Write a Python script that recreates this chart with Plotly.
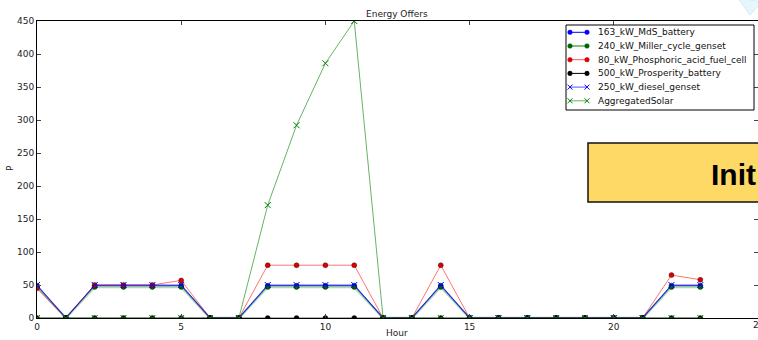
import plotly.graph_objects as go

hours = list(range(24))
names = ["163_kW_MdS_battery", "240_kW_Miller_cycle_genset", "80_kW_Phosphoric_acid_fuel_cell",
         "500_kW_Prosperity_battery", "250_kW_diesel_genset", "AggregatedSolar"]
mds_battery = [49, 0, 49, 49, 49, 49, 0, 0, 49, 49, 49, 49, 0, 0, 49, 0, 0, 0, 0, 0, 0, 0, 49, 49]
miller_genset = [47, 0, 47, 47, 47, 47, 0, 0, 47, 47, 47, 47, 0, 0, 47, 0, 0, 0, 0, 0, 0, 0, 47, 47]
fuel_cell = [45, 0, 50, 50, 50, 57, 0, 0, 80, 80, 80, 80, 0, 0, 80, 0, 0, 0, 0, 0, 0, 0, 65, 58]
prosperity_battery = [0] * 24
diesel_genset = [50, 0, 50, 50, 50, 50, 0, 0, 50, 50, 50, 50, 0, 0, 50, 0, 0, 0, 0, 0, 0, 0, 50, 50]
solar = [0, 0, 0, 0, 0, 0, 0, 0, 171, 292, 386, 450, 0, 0, 0, 0, 0, 0, 0, 0, 0, 0, 0, 0]
x_ticks = [0, 5, 10, 15, 20, 25]
y_ticks = list(range(0, 451, 50))

series = [mds_battery, miller_genset, fuel_cell, prosperity_battery, diesel_genset, solar]
line_cols = ["rgba(0,0,255,0.65)", "rgba(0,128,0,0.3)", "rgba(255,0,0,0.55)", "rgba(0,0,0,0.6)",
             "rgba(0,0,255,0.65)", "rgba(0,128,0,0.6)"]
legend_line_cols = ["#0000ff", "#008000", "#ff5555", "#000000", "#5555ff", "#66b366"]
mark_cols = ["#0000ff", "#006400", "#dd0000", "#000000", "#0000ff", "#008000"]
symbols = ["circle", "circle", "circle", "circle", "x-thin-open", "x-thin-open"]
widths = [1.2, 2.5, 1, 1, 1, 1]

L, R, T, B = 37, 0, 21, 22
W, H = 758, 340
pw, ph = W - L - R, H - T - B

def px(x):
    return (x - L) / pw

def py(y):
    return (H - B - y) / ph

fig = go.Figure()
for n, s, lc, mc, sym, w in zip(names, series, line_cols, mark_cols, symbols, widths):
    is_x = sym.startswith("x")
    fig.add_trace(go.Scatter(
        x=hours, y=s, name=n, mode="lines+markers", showlegend=False,
        line=dict(color=lc, width=w),
        marker=dict(symbol=sym, size=6 if is_x else 5, color=mc,
                    line=dict(color=mc, width=1) if is_x else dict(color="rgba(0,0,0,0.7)", width=0.5)),
    ))

# manual legend (matplotlib-like compact box)
shapes = [
    dict(type="rect", xref="paper", yref="paper", x0=px(566), x1=px(754), y0=py(110), y1=py(25),
         fillcolor="white", line=dict(color="black", width=1), layer="above"),
]
annotations = []
ys = [32.3, 46.0, 59.7, 73.4, 87.1, 100.8]
for n, yy, llc, mc, sym in zip(names, ys, legend_line_cols, mark_cols, symbols):
    shapes.append(dict(type="line", xref="paper", yref="paper", x0=px(570), x1=px(587), y0=py(yy), y1=py(yy),
                       line=dict(color=llc, width=1), layer="above"))
    for cx in (570, 587):
        if sym == "circle":
            shapes.append(dict(type="circle", xref="paper", yref="paper", x0=px(cx - 2.3), x1=px(cx + 2.3),
                               y0=py(yy + 2.3), y1=py(yy - 2.3), fillcolor=mc,
                               line=dict(color=mc, width=0.5), layer="above"))
        else:
            for d in (1, -1):
                shapes.append(dict(type="line", xref="paper", yref="paper", x0=px(cx - 2.5), x1=px(cx + 2.5),
                                   y0=py(yy - 2.5 * d), y1=py(yy + 2.5 * d),
                                   line=dict(color=mc, width=1), layer="above"))
    annotations.append(dict(text=n, xref="paper", yref="paper", x=px(596), y=py(yy), showarrow=False,
                            xanchor="left", yanchor="middle", font=dict(size=9, color="#111")))

shapes += [
    dict(type="rect", xref="paper", yref="paper", x0=px(588), x1=px(770), y0=py(202), y1=py(143),
         fillcolor="#FFD966", line=dict(color="#111", width=1.5), layer="above"),
    dict(type="path", xref="paper", yref="paper",
         path=f"M {px(738)},{py(-2)} L {px(750)},{py(15)} L {px(762)},{py(2)} Z",
         fillcolor="#e6f6fc", line=dict(color="#cdeef9", width=1), layer="above"),
]
annotations += [
    dict(text="Energy Offers", xref="paper", yref="paper", x=px(397), y=py(14), showarrow=False,
         xanchor="center", yanchor="middle", font=dict(size=9, color="#222")),
    dict(text="Hour", xref="paper", yref="paper", x=px(397), y=py(333), showarrow=False,
         xanchor="center", yanchor="middle", font=dict(size=9, color="#222")),
    dict(text="P", xref="paper", yref="paper", x=px(10), y=py(168), showarrow=False, textangle=-90,
         xanchor="center", yanchor="middle", font=dict(size=9, color="#222")),
    dict(text=str(x_ticks[-1]), xref="x", yref="paper", x=x_ticks[-1], y=py(325), showarrow=False,
         xanchor="center", yanchor="middle", font=dict(size=9, color="#222")),
    dict(text="<b>Init</b>", xref="paper", yref="paper", x=px(709), y=py(174), showarrow=False,
         xanchor="left", yanchor="middle", font=dict(family="Liberation Sans", size=30, color="#000")),
]

fig.update_layout(
    width=W, height=H,
    margin=dict(l=L, r=R, t=T, b=B, autoexpand=False),
    paper_bgcolor="white", plot_bgcolor="white",
    font=dict(family="DejaVu Sans", size=9, color="#222"),
    showlegend=False,
    xaxis=dict(range=[0, 25], tickvals=x_ticks, ticks="inside", ticklen=4,
               showline=True, linecolor="black", linewidth=1, mirror="allticks",
               showgrid=False, zeroline=False, tickfont=dict(size=9, color="#222")),
    yaxis=dict(range=[0, 450], tickvals=y_ticks, ticks="inside", ticklen=4,
               showline=True, linecolor="black", linewidth=1, mirror="allticks",
               showgrid=False, zeroline=False, tickfont=dict(size=9, color="#222")),
    shapes=shapes,
    annotations=annotations,
)

fig.write_html("out.html", config={"displayModeBar": False},
               post_script="document.body.style.margin='0';document.body.style.overflow='hidden';")
